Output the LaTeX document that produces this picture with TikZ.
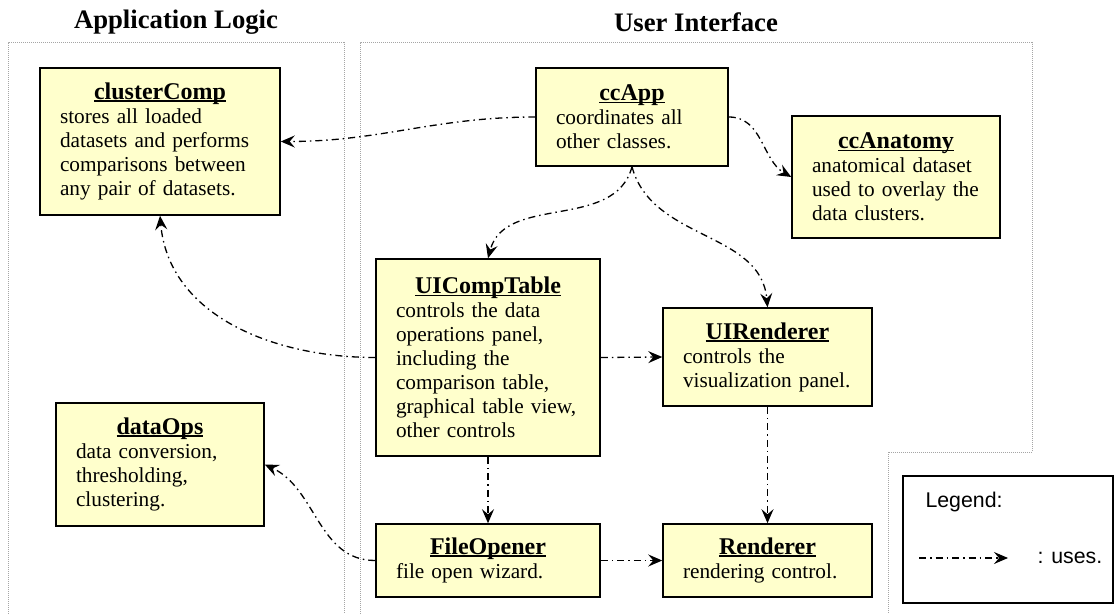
\documentclass[tikz,border=0pt]{standalone}
\usepackage{fontspec}
\setmainfont{Liberation Serif}
\newfontfamily\legendfont{Liberation Sans}
\usepackage{tikz}
\usetikzlibrary{arrows.meta}
\definecolor{clsyellow}{RGB}{255, 255, 204}
\definecolor{groupgray}{RGB}{165, 165, 165}
% class name: bold, centred, underlined just below the baseline
\newsavebox{\clsnamebox}
\newcommand{\clsname}[1]{\makebox[\linewidth]{\fontsize{24}{24}\selectfont\bfseries
    \sbox{\clsnamebox}{#1}\rlap{\rule[-2.6pt]{\wd\clsnamebox}{1.8pt}}\usebox{\clsnamebox}}}

\begin{document}
\begin{tikzpicture}[x=1pt, y=-1pt,
    cls/.style={rectangle, draw, line width=1.5pt, fill=clsyellow, inner xsep=20pt, inner ysep=0pt, align=left, font=\fontsize{21.3}{24}\selectfont},
    uses/.style={line width=1.3pt, dash pattern=on 7pt off 4pt on 1.5pt off 4pt, -{Stealth[length=14pt,width=12pt,inset=5pt]}},
    group/.style={groupgray, line width=1pt, dash pattern=on 1pt off 1pt},
    grouptitle/.style={font=\fontsize{26.7}{30}\selectfont\bfseries}
]
    \useasboundingbox (0,0) rectangle (1115,615);

    % package outlines
    \draw[group] (8,614) -- (8,43) -- (344,43) -- (344,614);
    \draw[group] (360,614) -- (360,43) -- (1032,43) -- (1032,452) -- (888,452) -- (888,614);
    \node[grouptitle] (logictitle) at (176,22) {Application Logic};
    \node[grouptitle] (uititle) at (696,22) {User Interface};

    % classes
    \node[cls, text width=200pt, minimum height=147pt] (clustercomp) at (160,141.5) {
        \clsname{clusterComp}\\
        stores all loaded\\
        datasets and performs\\
        comparisons between\\
        any pair of datasets.
    };

    \node[cls, text width=168pt, minimum height=123pt] (dataops) at (160,464.5) {
        \clsname{dataOps}\\
        data conversion,\\
        thresholding,\\
        clustering.
    };

    \node[cls, text width=152pt, minimum height=98pt] (ccapp) at (632,117) {
        \clsname{ccApp}\\
        coordinates all\\
        other classes.
    };

    \node[cls, text width=168pt, minimum height=122pt] (ccanatomy) at (896,177) {
        \clsname{ccAnatomy}\\
        anatomical dataset\\
        used to overlay the\\
        data clusters.
    };

    \node[cls, text width=184pt, minimum height=197pt] (uicomptable) at (488,357.5) {
        \clsname{UICompTable}\\
        controls the data\\
        operations panel,\\
        including the\\
        comparison table,\\
        graphical table view,\\
        other controls
    };

    \node[cls, text width=169pt, minimum height=98pt] (uirenderer) at (767.5,357) {
        \clsname{UIRenderer}\\
        controls the\\
        visualization panel.
    };

    \node[cls, text width=184pt, minimum height=73pt] (fileopener) at (488,560.5) {
        \clsname{FileOpener}\\
        file open wizard.
    };

    \node[cls, text width=169pt, minimum height=73pt] (renderer) at (767.5,560.5) {
        \clsname{Renderer}\\
        rendering control.
    };

    % uses relations
    \draw[uses] (ccapp.west) to[out=180, in=0] (clustercomp.east);
    \draw[uses] (ccapp.east) to[out=0, in=150] (ccanatomy.west);
    \draw[uses] (ccapp.south) to[out=-105, in=75] (uicomptable.north);
    \draw[uses] (ccapp.south) to[out=-75, in=95] (uirenderer.north);
    \draw[uses] (uicomptable.west) to[out=180, in=-85] (clustercomp.south);
    \draw[uses] (uicomptable.east) -- (uirenderer.west);
    \draw[uses] (uicomptable.south) -- (fileopener.north);
    \draw[uses] (uirenderer.south) -- (renderer.north);
    \draw[uses] (fileopener.east) -- (renderer.west);
    \draw[uses] (fileopener.west) to[out=180, in=-25] (dataops.east);

    % legend
    \draw[line width=1.3pt] (903,476) rectangle (1113,603);
    \node[anchor=west, font=\legendfont\fontsize{21.3}{24}\selectfont] (legendtitle) at (922,502) {Legend:};
    \coordinate (legstart) at (919,558);
    \coordinate (legend) at (1008,558);
    \draw[uses] (legstart) -- (legend);
    \node[anchor=west, font=\legendfont\fontsize{21.3}{24}\selectfont] (legendtext) at (1034,558) {: uses.};
\end{tikzpicture}
\end{document}
